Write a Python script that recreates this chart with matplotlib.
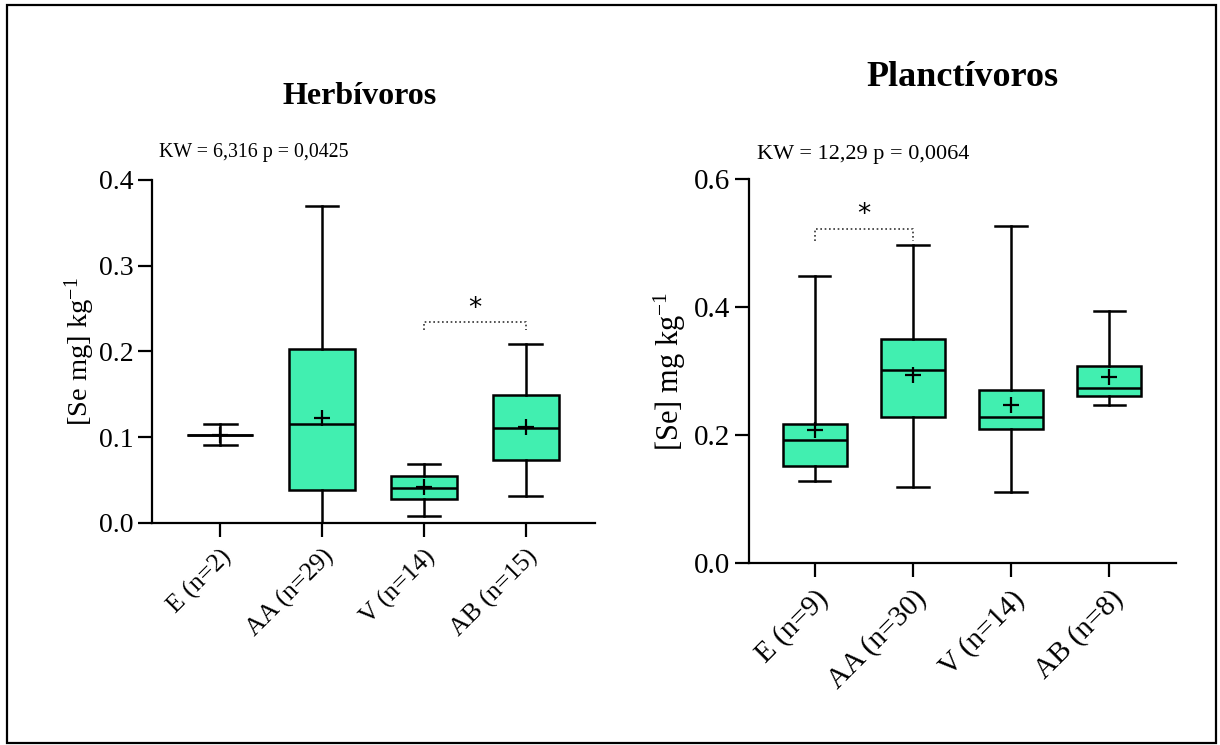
import matplotlib
matplotlib.use('Agg')
import matplotlib.pyplot as plt
from matplotlib.patches import Rectangle

plt.rcParams['font.family'] = ['Liberation Serif', 'DejaVu Serif']
plt.rcParams['mathtext.fontset'] = 'custom'
plt.rcParams['mathtext.rm'] = 'Liberation Serif'
plt.rcParams['mathtext.it'] = 'Liberation Serif:italic'

BOX_COLOR = '#41EFB0'

# Herbivoros
herb_labels = ['E (n=2)', 'AA (n=29)', 'V (n=14)', 'AB (n=15)']
herb_min = [0.091, 0.000, 0.008, 0.031]
herb_q1 = [0.103, 0.038, 0.028, 0.073]
herb_med = [0.103, 0.115, 0.041, 0.111]
herb_q3 = [0.103, 0.203, 0.055, 0.149]
herb_max = [0.115, 0.370, 0.069, 0.209]
herb_mean = [0.103, 0.122, 0.042, 0.112]
herb_sig = [(2, 3, 0.234)]  # (group a, group b, bracket height)

# Planctivoros
plan_labels = ['E (n=9)', 'AA (n=30)', 'V (n=14)', 'AB (n=8)']
plan_min = [0.129, 0.119, 0.111, 0.247]
plan_q1 = [0.152, 0.229, 0.210, 0.262]
plan_med = [0.193, 0.302, 0.228, 0.274]
plan_q3 = [0.217, 0.350, 0.271, 0.309]
plan_max = [0.449, 0.497, 0.527, 0.394]
plan_mean = [0.209, 0.295, 0.247, 0.291]
plan_sig = [(0, 1, 0.522)]


def make_stats(mins, q1s, meds, q3s, maxs, means):
    return [dict(whislo=a, q1=b, med=c, q3=d, whishi=e, mean=f, fliers=[])
            for a, b, c, d, e, f in zip(mins, q1s, meds, q3s, maxs, means)]


def draw_panel(ax, stats, labels, ymax, yticks, sig, dy, xfs, yfs):
    ax.bxp(stats, positions=range(len(stats)), widths=0.65, patch_artist=True,
           showmeans=True, showfliers=False,
           boxprops=dict(facecolor=BOX_COLOR, edgecolor='black', linewidth=1.8),
           medianprops=dict(color='black', linewidth=1.8),
           whiskerprops=dict(color='black', linewidth=1.8),
           capprops=dict(color='black', linewidth=1.8),
           capwidths=0.32,
           meanprops=dict(marker='+', markersize=11, markeredgecolor='black',
                          markeredgewidth=1.6))
    ax.set_xlim(-0.67, len(stats) - 0.32)
    ax.set_ylim(0, ymax)
    ax.set_yticks(yticks)
    ax.set_yticklabels([f'{t:.1f}' for t in yticks], fontsize=yfs)
    ax.set_xticks(range(len(labels)))
    ax.set_xticklabels(labels, rotation=45, ha='right', va='top',
                       rotation_mode='anchor', fontsize=xfs)
    for s in ['top', 'right']:
        ax.spines[s].set_visible(False)
    for s in ['left', 'bottom']:
        ax.spines[s].set_linewidth(1.6)
    ax.tick_params(axis='both', length=10, width=1.6, direction='out')
    ax.tick_params(axis='x', pad=6)
    for a, b, h in sig:
        ax.plot([a, a, b, b], [h - dy, h, h, h - dy], color='#333333',
                linestyle=(0, (1, 1.6)), linewidth=1.2, clip_on=False)
        ax.text((a + b) / 2, h + dy * 0.1, '*', ha='center', va='bottom',
                fontsize=19, family='DejaVu Sans')


fig = plt.figure(figsize=(12.2, 7.45), dpi=100)

ax1 = fig.add_axes([0.1246, 0.298, 0.3631, 0.4604])
draw_panel(ax1, make_stats(herb_min, herb_q1, herb_med, herb_q3, herb_max, herb_mean),
           herb_labels, 0.4, [0.0, 0.1, 0.2, 0.3, 0.4], herb_sig, 0.009, 18.5, 20)
ax1.set_ylabel(r'[Se mg] kg$^{\mathregular{-1}}$', fontsize=20.5, labelpad=1)

ax2 = fig.add_axes([0.6139, 0.2439, 0.35, 0.5154])
draw_panel(ax2, make_stats(plan_min, plan_q1, plan_med, plan_q3, plan_max, plan_mean),
           plan_labels, 0.6, [0.0, 0.2, 0.4, 0.6], plan_sig, 0.018, 21, 21)
ax2.set_ylabel(r'[Se] mg kg$^{\mathregular{-1}}$', fontsize=22, labelpad=4)

fig.text(360 / 1220, 1 - 97 / 745, 'Herbívoros', ha='center', va='center',
         fontsize=23, fontweight='bold')
fig.text(962 / 1220, 1 - 77 / 745, 'Planctívoros', ha='center', va='center',
         fontsize=26, fontweight='bold')
fig.text(159 / 1220, 1 - 153 / 745, 'KW = 6,316 p = 0,0425', ha='left',
         va='center', fontsize=14.3)
fig.text(757 / 1220, 1 - 155 / 745, 'KW = 12,29 p = 0,0064', ha='left',
         va='center', fontsize=16)

fig.patches.append(Rectangle((7 / 1220, 2 / 745), 1209 / 1220, 738 / 745,
                             transform=fig.transFigure, fill=False,
                             edgecolor='black', linewidth=1.6))

fig.savefig('out.png', dpi=100)
